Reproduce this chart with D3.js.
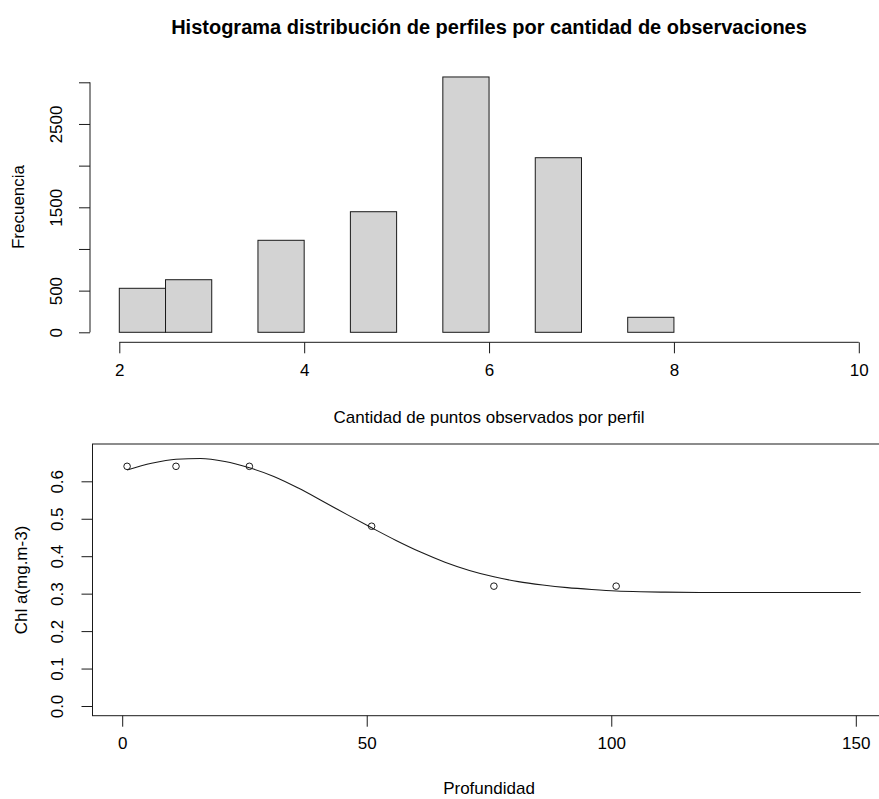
<!DOCTYPE html>
<html><head><meta charset="utf-8">
<script src="https://cdn.jsdelivr.net/npm/d3@7"></script>
<style>body{margin:0;background:#fff}svg{display:block;font-family:"Liberation Sans",Arial,sans-serif}</style>
</head><body>
<svg id="c" width="879" height="799"></svg>
<script>
// Histogram data
const binStarts = [2,2.5,3,3.5,4,4.5,5,5.5,6,6.5,7,7.5,8,8.5,9,9.5];
const binCounts = [528,631,0,1104,0,1447,0,3064,0,2095,0,180,0,0,0,0];
const histXTicks = [2,4,6,8,10];
const histYTicks = [0,500,1000,1500,2000,2500,3000];
const histYLabels = ["0","500","","1500","","2500",""];

// Profile data
const obsDepth = [1,11,26,51,76,101];
const obsChl = [0.64,0.64,0.64,0.48,0.32,0.32];
const fitDepth = [1,6,11,16,21,26,31,36,41,46,51,56,61,66,71,76,81,86,91,96,101,106,111,121,131,141,151];
const fitChl = [0.630,0.648,0.659,0.661,0.653,0.636,0.613,0.582,0.547,0.511,0.476,0.442,0.411,0.384,0.362,0.345,0.332,0.323,0.316,0.311,0.307,0.305,0.304,0.303,0.303,0.303,0.303];
const profXTicks = [0,50,100,150];
const profYTicks = [0,0.1,0.2,0.3,0.4,0.5,0.6];

const svg = d3.select("#c");
const ink = "#1a1a1a";
const fs = 17;
const lfs = 17;

// ---------- Top: histogram ----------
const x1 = d3.scaleLinear().domain([2,10]).range([119.3,858.8]);
const y1 = d3.scaleLinear().domain([0,3000]).range([332.3,82.3]);

svg.append("text").attr("x",489).attr("y",34).attr("text-anchor","middle")
  .attr("font-size",20).attr("font-weight","bold").attr("fill","#000")
  .text("Histograma distribución de perfiles por cantidad de observaciones");

svg.append("g").selectAll("rect").data(binStarts).join("rect")
  .attr("x",d=>x1(d)).attr("width",d=>x1(d+0.5)-x1(d))
  .attr("y",(d,i)=>y1(binCounts[i])).attr("height",(d,i)=>y1(0)-y1(binCounts[i]))
  .attr("fill","#d3d3d3").attr("stroke",ink).attr("stroke-width",1);

const gx1 = svg.append("g").attr("transform","translate(0,342.3)")
  .call(d3.axisBottom(x1).tickValues(histXTicks).tickSize(11).tickPadding(8).tickFormat(d3.format("d")));
const gy1 = svg.append("g").attr("transform","translate(90,0)")
  .call(d3.axisLeft(y1).tickValues(histYTicks).tickSize(11).tickFormat((d,i)=>histYLabels[i]));
[gx1,gy1].forEach(g=>{
  g.select(".domain").attr("stroke",ink).attr("d", g===gx1 ? `M${x1(2)},0H${x1(10)}` : `M0,${y1(0)}V${y1(3000)}`);
  g.selectAll(".tick line").attr("stroke",ink);
  g.selectAll("text").attr("font-size",fs).attr("fill","#000").attr("font-family","Liberation Sans, Arial, sans-serif");
});
gx1.selectAll(".tick text").attr("dy","0.85em");
gy1.selectAll(".tick text").attr("transform","rotate(-90)").attr("x",0).attr("y",-28).attr("dy","0").attr("text-anchor","middle");

svg.append("text").attr("x",489).attr("y",423).attr("text-anchor","middle").attr("font-size",lfs).attr("fill","#000")
  .text("Cantidad de puntos observados por perfil");
svg.append("text").attr("transform","translate(24,207) rotate(-90)").attr("text-anchor","middle").attr("font-size",lfs).attr("fill","#000")
  .text("Frecuencia");

// ---------- Bottom: profile ----------
const x2 = d3.scaleLinear().domain([0,150]).range([122.2,855.8]);
const y2 = d3.scaleLinear().domain([0,0.6]).range([706,481.3]);

svg.append("rect").attr("x",92.5).attr("y",444).attr("width",800).attr("height",715.7-444)
  .attr("fill","none").attr("stroke",ink).attr("stroke-width",1);

const line = d3.line().x(d=>x2(d[0])).y(d=>y2(d[1])).curve(d3.curveMonotoneX);
svg.append("path").datum(fitDepth.map((d,i)=>[d,fitChl[i]])).attr("d",line)
  .attr("fill","none").attr("stroke",ink).attr("stroke-width",1.1);

svg.append("g").selectAll("circle").data(obsDepth).join("circle")
  .attr("cx",d=>x2(d)).attr("cy",(d,i)=>y2(obsChl[i])).attr("r",3.3)
  .attr("fill","none").attr("stroke",ink).attr("stroke-width",1);

const gx2 = svg.append("g").attr("transform","translate(0,715.7)")
  .call(d3.axisBottom(x2).tickValues(profXTicks).tickSize(11).tickPadding(8).tickFormat(d3.format("d")));
const gy2 = svg.append("g").attr("transform","translate(92.5,0)")
  .call(d3.axisLeft(y2).tickValues(profYTicks).tickSize(11).tickFormat(d3.format(".1f")));
[gx2,gy2].forEach(g=>{
  g.select(".domain").remove();
  g.selectAll(".tick line").attr("stroke",ink);
  g.selectAll("text").attr("font-size",fs).attr("fill","#000").attr("font-family","Liberation Sans, Arial, sans-serif");
});
gx2.selectAll(".tick text").attr("dy","0.85em");
gy2.selectAll(".tick text").attr("transform","rotate(-90)").attr("x",0).attr("y",-30).attr("dy","0").attr("text-anchor","middle");

svg.append("text").attr("x",489).attr("y",794).attr("text-anchor","middle").attr("font-size",lfs).attr("fill","#000")
  .text("Profundidad");
svg.append("text").attr("transform","translate(27,580) rotate(-90)").attr("text-anchor","middle").attr("font-size",lfs).attr("fill","#000")
  .text("Chl a(mg.m-3)");
</script>
</body></html>
